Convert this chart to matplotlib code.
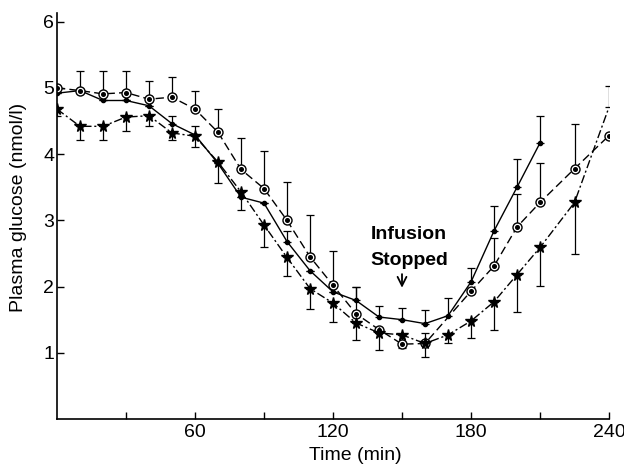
import numpy as np
import matplotlib
matplotlib.use("Agg")
import matplotlib.pyplot as plt

plt.rcParams['font.family'] = ['Liberation Sans', 'DejaVu Sans']

# group 1: solid line, small dots
t_solid = [0, 10, 20, 30, 40, 50, 60, 70, 80, 90, 100, 110, 120, 130, 140, 150, 160, 170, 180, 190, 200, 210]
g_solid = [4.92, 4.96, 4.81, 4.81, 4.73, 4.46, 4.29, 3.86, 3.35, 3.26, 2.68, 2.24, 1.92, 1.79, 1.54, 1.50, 1.44, 1.56, 2.07, 2.84, 3.50, 4.17]
e_solid = [0, 0, 0, 0, 0, 0.12, 0.13, 0, 0, 0, 0.16, 0, 0, 0.21, 0.17, 0.18, 0.21, 0.27, 0.21, 0.38, 0.42, 0.41]

# group 2: dashed line, ringed dots
t_ring = [0, 10, 20, 30, 40, 50, 60, 70, 80, 90, 100, 110, 120, 130, 140, 150, 160, 180, 190, 200, 210, 225, 240]
g_ring = [5.00, 4.96, 4.91, 4.93, 4.83, 4.86, 4.68, 4.33, 3.77, 3.48, 3.00, 2.45, 2.02, 1.59, 1.35, 1.13, 1.14, 1.93, 2.31, 2.90, 3.27, 3.78, 4.28]
e_ring = [0, 0.30, 0.35, 0.33, 0.28, 0.30, 0.28, 0.35, 0.47, 0.56, 0.58, 0.63, 0.51, 0.41, 0, 0, 0.16, 0, 0.43, 0.50, 0.60, 0.68, 0]

# group 3: dash-dot line, stars
t_star = [0, 10, 20, 30, 40, 50, 60, 70, 80, 90, 100, 110, 120, 130, 140, 150, 160, 170, 180, 190, 200, 210, 225, 240]
g_star = [4.68, 4.42, 4.42, 4.56, 4.58, 4.32, 4.27, 3.88, 3.43, 2.93, 2.44, 1.97, 1.75, 1.45, 1.30, 1.27, 1.14, 1.27, 1.48, 1.77, 2.18, 2.59, 3.27, 4.71]
e_star_lo = [0.10, 0.20, 0.20, 0.21, 0.16, 0.10, 0.16, 0.31, 0.27, 0.34, 0.28, 0.31, 0.28, 0.26, 0.26, 0.20, 0.20, 0.12, 0.26, 0.43, 0.57, 0.58, 0.78, 0]
e_star_hi = [0] * 23 + [0.32]

fig = plt.figure(figsize=(6.24, 4.66), dpi=100)
ax = fig.add_axes([0.0913, 0.1009, 0.8847, 0.871])

k = 'black'
ax.errorbar(t_solid, g_solid, yerr=[np.zeros(len(e_solid)), e_solid], fmt='none',
            ecolor=k, elinewidth=0.9, capsize=3, capthick=0.9)
ax.errorbar(t_ring, g_ring, yerr=[np.zeros(len(e_ring)), e_ring], fmt='none',
            ecolor=k, elinewidth=0.9, capsize=3, capthick=0.9)
ax.errorbar(t_star, g_star, yerr=[e_star_lo, e_star_hi], fmt='none',
            ecolor=k, elinewidth=0.9, capsize=3, capthick=0.9)

ax.plot(t_solid, g_solid, '-', color=k, lw=1.0, marker='o', ms=3)
ax.plot(t_ring, g_ring, color=k, lw=1.0, ls=(0, (6, 3)),
        marker='o', ms=6.5, mfc='white', mec=k, mew=1.0)
ax.plot(t_ring, g_ring, 'o', color=k, ms=2.6)
ax.plot(t_star, g_star, color=k, lw=1.0, ls=(0, (6, 2, 1.5, 2)),
        marker='*', ms=8.5, mfc=k, mec=k, markevery=list(range(len(t_star) - 1)))

ax.text(153, 2.78, 'Infusion', ha='center', va='center', fontsize=14, fontweight='bold')
ax.text(153, 2.40, 'Stopped', ha='center', va='center', fontsize=14, fontweight='bold')
ax.annotate('', xy=(150, 1.94), xytext=(150, 2.23),
            arrowprops=dict(arrowstyle='->', color=k, lw=1.3, mutation_scale=16))

ax.set_xlim(0, 240)
ax.set_ylim(0, 6.13)
ax.set_xticks([30, 60, 90, 120, 150, 180, 210, 240])
ax.set_xticklabels(['', '60', '', '120', '', '180', '', '240'])
ax.set_yticks([1, 2, 3, 4, 5, 6])
ax.tick_params(direction='in', length=5, width=1, labelsize=14, colors=k)
ax.tick_params(axis='y', pad=2)
ax.spines['top'].set_visible(False)
ax.spines['right'].set_visible(False)
for s in ('left', 'bottom'):
    ax.spines[s].set_linewidth(1.2)

ax.set_xlabel('Time (min)', fontsize=14)
ax.xaxis.set_label_coords(0.54, -0.07)
ax.set_ylabel('Plasma glucose (nmol/l)', fontsize=14)
ax.yaxis.set_label_coords(-0.054, 0.52)

plt.savefig('out.png', dpi=100)
